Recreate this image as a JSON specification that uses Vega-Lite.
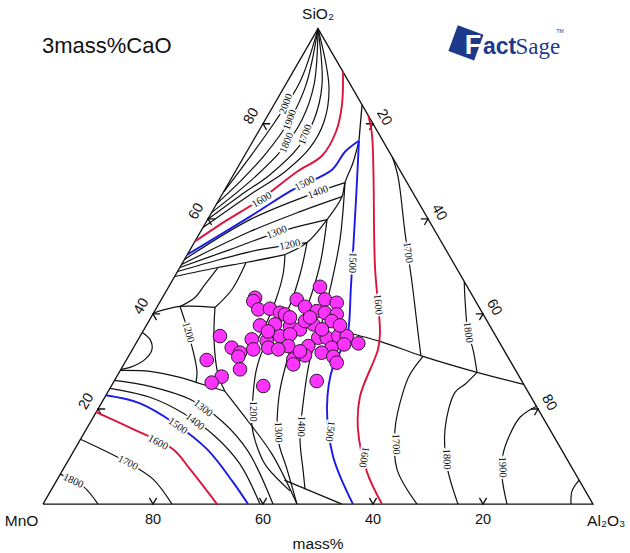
{
  "$schema": "https://vega.github.io/schema/vega-lite/v6.json",
  "width": 630,
  "height": 553,
  "autosize": {"type": "fit", "contains": "padding"},
  "padding": 0,
  "background": "white",
  "config": {"view": {"stroke": null}},
  "datasets": {
    "lines": [
      {"id":"T","iso":"other","o":0,"x":0,"y":0},{"id":"T","iso":"other","o":1,"x":100,"y":0},{"id":"T","iso":"other","o":2,"x":50,"y":86.603},{"id":"T","iso":"other","o":3,"x":0,"y":0},
      {"id":"A1","iso":"other","o":0,"x":50,"y":86.6},{"id":"A1","iso":"other","o":1,"x":46.73,"y":76.91},{"id":"A1","iso":"other","o":2,"x":42.18,"y":69.64},{"id":"A1","iso":"other","o":3,"x":37.27,"y":62.73},{"id":"A1","iso":"other","o":4,"x":32.9,"y":56.9},
      {"id":"A2","iso":"other","o":0,"x":50,"y":86.6},{"id":"A2","iso":"other","o":1,"x":47.82,"y":76.36},{"id":"A2","iso":"other","o":2,"x":44.91,"y":70.0},{"id":"A2","iso":"other","o":3,"x":40.36,"y":63.64},{"id":"A2","iso":"other","o":4,"x":35.82,"y":58.73},{"id":"A2","iso":"other","o":5,"x":31.6,"y":54.73},
      {"id":"A3","iso":"other","o":0,"x":50,"y":86.6},{"id":"A3","iso":"other","o":1,"x":49.27,"y":76.36},{"id":"A3","iso":"other","o":2,"x":47.09,"y":70.0},{"id":"A3","iso":"other","o":3,"x":43.45,"y":64.55},{"id":"A3","iso":"other","o":4,"x":38.0,"y":59.09},{"id":"A3","iso":"other","o":5,"x":30.65,"y":53.09},
      {"id":"A4","iso":"other","o":0,"x":50,"y":86.6},{"id":"A4","iso":"other","o":1,"x":50.73,"y":76.36},{"id":"A4","iso":"other","o":2,"x":49.27,"y":70.0},{"id":"A4","iso":"other","o":3,"x":46.36,"y":64.91},{"id":"A4","iso":"other","o":4,"x":41.27,"y":60.0},{"id":"A4","iso":"other","o":5,"x":35.82,"y":56.18},{"id":"A4","iso":"other","o":6,"x":29.95,"y":51.87},
      {"id":"A5","iso":"other","o":0,"x":50,"y":86.6},{"id":"A5","iso":"other","o":1,"x":52.0,"y":75.82},{"id":"A5","iso":"other","o":2,"x":51.09,"y":69.64},{"id":"A5","iso":"other","o":3,"x":48.55,"y":64.91},{"id":"A5","iso":"other","o":4,"x":44.0,"y":60.55},{"id":"A5","iso":"other","o":5,"x":37.64,"y":56.36},{"id":"A5","iso":"other","o":6,"x":29.08,"y":50.36},
      {"id":"R1","iso":"1600","o":0,"x":54.54,"y":78.73},{"id":"R1","iso":"1600","o":1,"x":54.36,"y":72.73},{"id":"R1","iso":"1600","o":2,"x":53.27,"y":67.82},{"id":"R1","iso":"1600","o":3,"x":50.73,"y":63.45},{"id":"R1","iso":"1600","o":4,"x":46.18,"y":60.55},{"id":"R1","iso":"1600","o":5,"x":39.45,"y":55.45},{"id":"R1","iso":"1600","o":6,"x":32.73,"y":51.27},{"id":"R1","iso":"1600","o":7,"x":27.61,"y":47.82},
      {"id":"B1","iso":"1500","o":0,"x":57.45,"y":66.18},{"id":"B1","iso":"1500","o":1,"x":54.91,"y":64.18},{"id":"B1","iso":"1500","o":2,"x":52.55,"y":60.91},{"id":"B1","iso":"1500","o":3,"x":45.45,"y":57.27},{"id":"B1","iso":"1500","o":4,"x":37.64,"y":52.36},{"id":"B1","iso":"1500","o":5,"x":26.24,"y":45.45},
      {"id":"B2","iso":"1500","o":0,"x":57.45,"y":66.18},{"id":"B2","iso":"1500","o":1,"x":56.91,"y":55.45},{"id":"B2","iso":"1500","o":2,"x":56.0,"y":39.82},{"id":"B2","iso":"1500","o":3,"x":55.45,"y":31.27},{"id":"B2","iso":"1500","o":4,"x":54.55,"y":28.73},{"id":"B2","iso":"1500","o":5,"x":52.73,"y":25.09},{"id":"B2","iso":"1500","o":6,"x":51.64,"y":17.82},{"id":"B2","iso":"1500","o":7,"x":52.73,"y":8.73},{"id":"B2","iso":"1500","o":8,"x":56.36,"y":0},
      {"id":"R2","iso":"1600","o":0,"x":59.17,"y":70.73},{"id":"R2","iso":"1600","o":1,"x":59.82,"y":67.27},{"id":"R2","iso":"1600","o":2,"x":60.36,"y":43.27},{"id":"R2","iso":"1600","o":3,"x":61.27,"y":31.27},{"id":"R2","iso":"1600","o":4,"x":60.91,"y":28.18},{"id":"R2","iso":"1600","o":5,"x":57.64,"y":19.64},{"id":"R2","iso":"1600","o":6,"x":57.27,"y":13.64},{"id":"R2","iso":"1600","o":7,"x":58.91,"y":5.82},{"id":"R2","iso":"1600","o":8,"x":61.64,"y":0},
      {"id":"TS","iso":"other","o":0,"x":58.01,"y":72.73},{"id":"TS","iso":"other","o":1,"x":57.45,"y":66.18},
      {"id":"D","iso":"other","o":0,"x":57.45,"y":66.18},{"id":"D","iso":"other","o":1,"x":56.36,"y":62.18},{"id":"D","iso":"other","o":2,"x":54.91,"y":58.55},{"id":"D","iso":"other","o":3,"x":54.36,"y":56.0},{"id":"D","iso":"other","o":4,"x":51.64,"y":51.82},{"id":"D","iso":"other","o":5,"x":48.0,"y":47.64},{"id":"D","iso":"other","o":6,"x":44.0,"y":45.45},
      {"id":"C1","iso":"other","o":0,"x":54.91,"y":58.55},{"id":"C1","iso":"other","o":1,"x":48.55,"y":56.36},{"id":"C1","iso":"other","o":2,"x":37.64,"y":51.82},{"id":"C1","iso":"other","o":3,"x":25.72,"y":44.55},
      {"id":"C1b","iso":"other","o":0,"x":54.36,"y":56.0},{"id":"C1b","iso":"other","o":1,"x":46.73,"y":53.27},{"id":"C1b","iso":"other","o":2,"x":37.64,"y":49.64},{"id":"C1b","iso":"other","o":3,"x":25.2,"y":43.64},
      {"id":"C2","iso":"other","o":0,"x":51.64,"y":51.82},{"id":"C2","iso":"other","o":1,"x":43.09,"y":49.64},{"id":"C2","iso":"other","o":2,"x":34.0,"y":46.36},{"id":"C2","iso":"other","o":3,"x":24.88,"y":43.09},
      {"id":"C3","iso":"other","o":0,"x":48.0,"y":47.64},{"id":"C3","iso":"other","o":1,"x":39.45,"y":46.36},{"id":"C3","iso":"other","o":2,"x":32.18,"y":44.55},{"id":"C3","iso":"other","o":3,"x":24.46,"y":42.36},
      {"id":"C4","iso":"other","o":0,"x":44.0,"y":45.45},{"id":"C4","iso":"other","o":1,"x":36.91,"y":44.0},{"id":"C4","iso":"other","o":2,"x":31.82,"y":43.09},{"id":"C4","iso":"other","o":3,"x":23.93,"y":41.45},
      {"id":"P1","iso":"other","o":0,"x":31.82,"y":43.09},{"id":"P1","iso":"other","o":1,"x":29.45,"y":40.0},{"id":"P1","iso":"other","o":2,"x":27.64,"y":37.64},{"id":"P1","iso":"other","o":3,"x":24.91,"y":36.0},
      {"id":"H1","iso":"other","o":0,"x":20.1,"y":34.8},{"id":"H1","iso":"other","o":1,"x":24.91,"y":36.0},{"id":"H1","iso":"other","o":2,"x":31.27,"y":35.82},
      {"id":"G1","iso":"other","o":0,"x":31.27,"y":35.82},{"id":"G1","iso":"other","o":1,"x":34.36,"y":39.09},{"id":"G1","iso":"other","o":2,"x":36.91,"y":44.0},
      {"id":"V1","iso":"other","o":0,"x":31.27,"y":35.82},{"id":"V1","iso":"other","o":1,"x":31.09,"y":30.0},{"id":"V1","iso":"other","o":2,"x":31.82,"y":23.64},{"id":"V1","iso":"other","o":3,"x":33.09,"y":20.55},
      {"id":"L12","iso":"other","o":0,"x":24.91,"y":36.0},{"id":"L12","iso":"other","o":1,"x":25.82,"y":33.27},{"id":"L12","iso":"other","o":2,"x":26.73,"y":30.0},{"id":"L12","iso":"other","o":3,"x":27.64,"y":26.36},{"id":"L12","iso":"other","o":4,"x":28.0,"y":24.0},{"id":"L12","iso":"other","o":5,"x":27.82,"y":22.18},
      {"id":"LP","iso":"other","o":0,"x":18.05,"y":31.27},{"id":"LP","iso":"other","o":1,"x":19.45,"y":30.0},{"id":"LP","iso":"other","o":2,"x":19.82,"y":28.18},{"id":"LP","iso":"other","o":3,"x":18.55,"y":26.36},{"id":"LP","iso":"other","o":4,"x":15.82,"y":24.91},{"id":"LP","iso":"other","o":5,"x":14.18,"y":24.55},
      {"id":"K0","iso":"other","o":0,"x":14.18,"y":24.36},{"id":"K0","iso":"other","o":1,"x":19.45,"y":24.18},{"id":"K0","iso":"other","o":2,"x":24.91,"y":23.09},{"id":"K0","iso":"other","o":3,"x":27.82,"y":22.18},{"id":"K0","iso":"other","o":4,"x":33.09,"y":20.55},
      {"id":"K1","iso":"other","o":0,"x":33.09,"y":20.55},{"id":"K1","iso":"other","o":1,"x":36.73,"y":15.82},{"id":"K1","iso":"other","o":2,"x":41.64,"y":9.09},{"id":"K1","iso":"other","o":3,"x":46.18,"y":0},
      {"id":"K2","iso":"other","o":0,"x":13.02,"y":22.55},{"id":"K2","iso":"other","o":1,"x":19.45,"y":21.45},{"id":"K2","iso":"other","o":2,"x":26.73,"y":19.09},{"id":"K2","iso":"other","o":3,"x":32.55,"y":15.09},{"id":"K2","iso":"other","o":4,"x":37.27,"y":9.64},{"id":"K2","iso":"other","o":5,"x":41.82,"y":0},
      {"id":"K3","iso":"other","o":0,"x":12.18,"y":21.09},{"id":"K3","iso":"other","o":1,"x":19.45,"y":19.45},{"id":"K3","iso":"other","o":2,"x":25.82,"y":16.36},{"id":"K3","iso":"other","o":3,"x":31.27,"y":12.36},{"id":"K3","iso":"other","o":4,"x":35.82,"y":7.27},{"id":"K3","iso":"other","o":5,"x":39.45,"y":0},
      {"id":"B3","iso":"1500","o":0,"x":11.44,"y":19.82},{"id":"B3","iso":"1500","o":1,"x":17.64,"y":18.36},{"id":"B3","iso":"1500","o":2,"x":23.64,"y":14.91},{"id":"B3","iso":"1500","o":3,"x":29.82,"y":10.0},{"id":"B3","iso":"1500","o":4,"x":34.55,"y":4.0},{"id":"B3","iso":"1500","o":5,"x":37.27,"y":0},
      {"id":"R3","iso":"1600","o":0,"x":9.66,"y":16.73},{"id":"R3","iso":"1600","o":1,"x":16.36,"y":13.64},{"id":"R3","iso":"1600","o":2,"x":23.64,"y":10.0},{"id":"R3","iso":"1600","o":3,"x":26.73,"y":6.36},{"id":"R3","iso":"1600","o":4,"x":31.64,"y":0},
      {"id":"N17","iso":"other","o":0,"x":6.82,"y":11.82},{"id":"N17","iso":"other","o":1,"x":15.27,"y":7.64},{"id":"N17","iso":"other","o":2,"x":20.0,"y":4.55},{"id":"N17","iso":"other","o":3,"x":23.45,"y":0},
      {"id":"N18","iso":"other","o":0,"x":3.15,"y":5.45},{"id":"N18","iso":"other","o":1,"x":7.27,"y":3.27},{"id":"N18","iso":"other","o":2,"x":10.0,"y":0},
      {"id":"M12","iso":"other","o":0,"x":48.0,"y":47.64},{"id":"M12","iso":"other","o":1,"x":46.73,"y":41.82},{"id":"M12","iso":"other","o":2,"x":44.55,"y":35.45},{"id":"M12","iso":"other","o":3,"x":41.64,"y":30.91},{"id":"M12","iso":"other","o":4,"x":40.0,"y":28.18},{"id":"M12","iso":"other","o":5,"x":38.73,"y":24.18},{"id":"M12","iso":"other","o":6,"x":38.18,"y":19.64},{"id":"M12","iso":"other","o":7,"x":38.0,"y":14.18},{"id":"M12","iso":"other","o":8,"x":39.09,"y":10.0},{"id":"M12","iso":"other","o":9,"x":40.6,"y":6.9},{"id":"M12","iso":"other","o":10,"x":44.9,"y":2.4},
      {"id":"M13","iso":"other","o":0,"x":51.64,"y":51.82},{"id":"M13","iso":"other","o":1,"x":50.36,"y":43.64},{"id":"M13","iso":"other","o":2,"x":48.18,"y":36.36},{"id":"M13","iso":"other","o":3,"x":45.82,"y":30.91},{"id":"M13","iso":"other","o":4,"x":44.18,"y":25.45},{"id":"M13","iso":"other","o":5,"x":42.91,"y":19.64},{"id":"M13","iso":"other","o":6,"x":42.73,"y":11.82},{"id":"M13","iso":"other","o":7,"x":44.36,"y":6.36},{"id":"M13","iso":"other","o":8,"x":46.18,"y":0},
      {"id":"M14","iso":"other","o":0,"x":54.91,"y":58.55},{"id":"M14","iso":"other","o":1,"x":54.0,"y":48.18},{"id":"M14","iso":"other","o":2,"x":52.18,"y":39.09},{"id":"M14","iso":"other","o":3,"x":50.36,"y":31.82},{"id":"M14","iso":"other","o":4,"x":48.55,"y":26.36},{"id":"M14","iso":"other","o":5,"x":47.45,"y":19.64},{"id":"M14","iso":"other","o":6,"x":46.73,"y":11.82},{"id":"M14","iso":"other","o":7,"x":47.27,"y":6.36},{"id":"M14","iso":"other","o":8,"x":47.64,"y":2.73},
      {"id":"BB","iso":"other","o":0,"x":43.9,"y":4.36},{"id":"BB","iso":"other","o":1,"x":54.36,"y":0},
      {"id":"BD","iso":"other","o":0,"x":44.0,"y":45.45},{"id":"BD","iso":"other","o":1,"x":43.64,"y":41.82},{"id":"BD","iso":"other","o":2,"x":42.36,"y":37.27},{"id":"BD","iso":"other","o":3,"x":40.91,"y":33.64},{"id":"BD","iso":"other","o":4,"x":38.55,"y":29.09},
      {"id":"E","iso":"other","o":0,"x":53.0,"y":31.8},{"id":"E","iso":"other","o":1,"x":61.27,"y":29.64},{"id":"E","iso":"other","o":2,"x":69.09,"y":26.91},{"id":"E","iso":"other","o":3,"x":78.91,"y":24.0},{"id":"E","iso":"other","o":4,"x":87.4,"y":21.82},
      {"id":"U17","iso":"other","o":0,"x":63.57,"y":63.09},{"id":"U17","iso":"other","o":1,"x":64.55,"y":59.64},{"id":"U17","iso":"other","o":2,"x":65.82,"y":49.45},{"id":"U17","iso":"other","o":3,"x":67.09,"y":40.36},{"id":"U17","iso":"other","o":4,"x":68.18,"y":31.27},{"id":"U17","iso":"other","o":5,"x":68.7,"y":27.1},
      {"id":"U18","iso":"other","o":0,"x":76.59,"y":40.55},{"id":"U18","iso":"other","o":1,"x":76.73,"y":37.27},{"id":"U18","iso":"other","o":2,"x":77.27,"y":31.27},{"id":"U18","iso":"other","o":3,"x":78.18,"y":28.18},{"id":"U18","iso":"other","o":4,"x":78.91,"y":24.0},
      {"id":"W17","iso":"other","o":0,"x":69.09,"y":26.91},{"id":"W17","iso":"other","o":1,"x":66.73,"y":23.64},{"id":"W17","iso":"other","o":2,"x":65.45,"y":20.36},{"id":"W17","iso":"other","o":3,"x":64.0,"y":13.64},{"id":"W17","iso":"other","o":4,"x":64.36,"y":6.36},{"id":"W17","iso":"other","o":5,"x":68.0,"y":0},
      {"id":"W18","iso":"other","o":0,"x":78.91,"y":24.0},{"id":"W18","iso":"other","o":1,"x":76.73,"y":21.82},{"id":"W18","iso":"other","o":2,"x":74.91,"y":20.36},{"id":"W18","iso":"other","o":3,"x":73.09,"y":13.64},{"id":"W18","iso":"other","o":4,"x":73.45,"y":6.91},{"id":"W18","iso":"other","o":5,"x":75.45,"y":0},
      {"id":"W19","iso":"other","o":0,"x":89.71,"y":17.82},{"id":"W19","iso":"other","o":1,"x":86.73,"y":15.82},{"id":"W19","iso":"other","o":2,"x":84.91,"y":12.73},{"id":"W19","iso":"other","o":3,"x":83.64,"y":9.09},{"id":"W19","iso":"other","o":4,"x":83.45,"y":5.09},{"id":"W19","iso":"other","o":5,"x":84.36,"y":0},
      {"id":"WC","iso":"other","o":0,"x":97.48,"y":4.36},{"id":"WC","iso":"other","o":1,"x":96.18,"y":2.36},{"id":"WC","iso":"other","o":2,"x":96.0,"y":0},
      {"id":"tickB20","iso":"other","o":0,"x":19.35,"y":1.13},{"id":"tickB20","iso":"other","o":1,"x":20,"y":0},{"id":"tickB20","iso":"other","o":2,"x":20.65,"y":1.13},
      {"id":"tickB40","iso":"other","o":0,"x":39.35,"y":1.13},{"id":"tickB40","iso":"other","o":1,"x":40,"y":0},{"id":"tickB40","iso":"other","o":2,"x":40.65,"y":1.13},
      {"id":"tickB60","iso":"other","o":0,"x":59.35,"y":1.13},{"id":"tickB60","iso":"other","o":1,"x":60,"y":0},{"id":"tickB60","iso":"other","o":2,"x":60.65,"y":1.13},
      {"id":"tickB80","iso":"other","o":0,"x":79.35,"y":1.13},{"id":"tickB80","iso":"other","o":1,"x":80,"y":0},{"id":"tickB80","iso":"other","o":2,"x":80.65,"y":1.13},
      {"id":"tickL20","iso":"other","o":0,"x":11.3,"y":17.32},{"id":"tickL20","iso":"other","o":1,"x":10,"y":17.32},{"id":"tickL20","iso":"other","o":2,"x":10.65,"y":16.19},
      {"id":"tickL40","iso":"other","o":0,"x":21.3,"y":34.64},{"id":"tickL40","iso":"other","o":1,"x":20,"y":34.64},{"id":"tickL40","iso":"other","o":2,"x":20.65,"y":33.51},
      {"id":"tickL60","iso":"other","o":0,"x":31.3,"y":51.96},{"id":"tickL60","iso":"other","o":1,"x":30,"y":51.96},{"id":"tickL60","iso":"other","o":2,"x":30.65,"y":50.83},
      {"id":"tickL80","iso":"other","o":0,"x":41.3,"y":69.28},{"id":"tickL80","iso":"other","o":1,"x":40,"y":69.28},{"id":"tickL80","iso":"other","o":2,"x":40.65,"y":68.15},
      {"id":"tickR20","iso":"other","o":0,"x":58.7,"y":69.28},{"id":"tickR20","iso":"other","o":1,"x":60,"y":69.28},{"id":"tickR20","iso":"other","o":2,"x":59.35,"y":68.15},
      {"id":"tickR40","iso":"other","o":0,"x":68.7,"y":51.96},{"id":"tickR40","iso":"other","o":1,"x":70,"y":51.96},{"id":"tickR40","iso":"other","o":2,"x":69.35,"y":50.83},
      {"id":"tickR60","iso":"other","o":0,"x":78.7,"y":34.64},{"id":"tickR60","iso":"other","o":1,"x":80,"y":34.64},{"id":"tickR60","iso":"other","o":2,"x":79.35,"y":33.51},
      {"id":"tickR80","iso":"other","o":0,"x":88.7,"y":17.32},{"id":"tickR80","iso":"other","o":1,"x":90,"y":17.32},{"id":"tickR80","iso":"other","o":2,"x":89.35,"y":16.19}
    ],
    "isoLabels": [
      {"t":"2000","x":44.2,"y":72.9,"a":290},{"t":"1900","x":44.9,"y":70.0,"a":290},{"t":"1800","x":44.3,"y":65.8,"a":292},{"t":"1700","x":47.7,"y":67.3,"a":290},
      {"t":"1600","x":39.8,"y":55.4,"a":328},{"t":"1500","x":47.6,"y":58.4,"a":333},{"t":"1400","x":50.0,"y":56.8,"a":340},{"t":"1300","x":42.5,"y":49.5,"a":340},{"t":"1200","x":44.9,"y":47.2,"a":348},
      {"t":"1200","x":26.4,"y":31.3,"a":75},
      {"t":"1300","x":29.1,"y":17.45,"a":38},{"t":"1400","x":27.6,"y":15.0,"a":38},{"t":"1500","x":24.5,"y":14.2,"a":35},{"t":"1600","x":20.9,"y":11.2,"a":28},{"t":"1700","x":15.45,"y":7.5,"a":27},{"t":"1800","x":5.5,"y":4.2,"a":25},
      {"t":"1200","x":38.1,"y":16.9,"a":90},{"t":"1300","x":42.76,"y":13.09,"a":88},{"t":"1400","x":46.95,"y":14.18,"a":92},{"t":"1500","x":52.18,"y":13.27,"a":97},{"t":"1600","x":58.34,"y":8.55,"a":100},
      {"t":"1500","x":56.24,"y":44.0,"a":92},{"t":"1600","x":60.88,"y":36.36,"a":85},{"t":"1700","x":66.33,"y":45.82,"a":82},{"t":"1800","x":77.27,"y":31.27,"a":83},
      {"t":"1700","x":64.14,"y":10.91,"a":88},{"t":"1800","x":73.38,"y":8.18,"a":88},{"t":"1900","x":83.53,"y":6.73,"a":88}
    ],
    "tickLabels": [
      {"side":"bottom","t":"80","x":20,"y":-2.91},{"side":"bottom","t":"60","x":40,"y":-2.91},{"side":"bottom","t":"40","x":60,"y":-2.91},{"side":"bottom","t":"20","x":80,"y":-2.91},
      {"side":"left","t":"80","x":37.9,"y":70.63},{"side":"left","t":"60","x":27.9,"y":53.31},{"side":"left","t":"40","x":17.9,"y":35.99},{"side":"left","t":"20","x":7.9,"y":18.67},
      {"side":"right","t":"20","x":62,"y":70.43},{"side":"right","t":"40","x":72,"y":53.11},{"side":"right","t":"60","x":82,"y":35.79},{"side":"right","t":"80","x":92,"y":18.47}
    ],
    "corners": [
      {"t":"SiO₂","x":50,"y":89.2},{"t":"MnO","x":-3.9,"y":-3.1},{"t":"Al₂O₃","x":102.4,"y":-3.1},{"t":"mass%","x":50,"y":-7.27}
    ],
    "samples": [
      {"x":38.55,"y":37.58},{"x":38.24,"y":36.96},{"x":39.15,"y":35.45},{"x":41.27,"y":35.58},{"x":43.09,"y":34.85},{"x":44.0,"y":34.55},{"x":46.13,"y":37.27},{"x":47.64,"y":35.95},
      {"x":50.36,"y":39.58},{"x":51.27,"y":37.27},{"x":53.4,"y":36.67},{"x":49.76,"y":35.15},{"x":51.27,"y":34.85},{"x":53.4,"y":34.55},{"x":52.49,"y":33.33},{"x":39.45,"y":32.55},
      {"x":42.18,"y":32.73},{"x":44.91,"y":32.42},{"x":46.73,"y":31.82},{"x":49.15,"y":32.73},{"x":47.64,"y":33.33},{"x":32.18,"y":30.6},{"x":37.95,"y":30.0},{"x":40.67,"y":29.69},
      {"x":43.09,"y":30.6},{"x":44.91,"y":30.91},{"x":50.05,"y":30.31},{"x":51.58,"y":30.31},{"x":53.69,"y":30.6},{"x":55.22,"y":30.6},{"x":57.33,"y":29.27},{"x":34.31,"y":28.49},
      {"x":35.82,"y":27.58},{"x":38.24,"y":28.18},{"x":40.96,"y":28.49},{"x":44.6,"y":28.78},{"x":48.24,"y":28.78},{"x":52.49,"y":28.49},{"x":35.51,"y":26.85},{"x":42.78,"y":28.18},
      {"x":45.51,"y":26.36},{"x":47.64,"y":27.09},{"x":50.67,"y":27.58},{"x":52.78,"y":26.85},{"x":53.4,"y":25.76},{"x":45.51,"y":25.45},{"x":29.76,"y":26.24},{"x":35.82,"y":24.55},
      {"x":32.49,"y":23.22},{"x":30.67,"y":22.13},{"x":40.05,"y":21.51},{"x":49.76,"y":22.42},{"x":44.91,"y":34.0},{"x":48.55,"y":34.0},{"x":50.73,"y":31.82},{"x":54.0,"y":32.55},
      {"x":40.91,"y":31.45},{"x":54.73,"y":29.09},{"x":46.73,"y":27.82}
    ]
  },
  "encoding": {
    "x": {"field": "x", "type": "quantitative", "scale": {"domain": [-7.818, 106.727], "nice": false, "zero": false}, "axis": null},
    "y": {"field": "y", "type": "quantitative", "scale": {"domain": [-8.727, 91.818], "nice": false, "zero": false}, "axis": null}
  },
  "layer": [
    {
      "data": {"name": "lines"},
      "transform": [{"filter": "datum.id == 'T' || datum.id == 'BB' || datum.id == 'TS' || indexof(datum.id, 'tick') == 0"}],
      "mark": {"type": "line", "color": "#111111", "strokeWidth": 1.3},
      "encoding": {"detail": {"field": "id"}, "order": {"field": "o", "type": "quantitative"}}
    },
    {
      "data": {"name": "lines"},
      "transform": [{"filter": "datum.iso == 'other' && !(datum.id == 'T' || datum.id == 'BB' || datum.id == 'TS' || indexof(datum.id, 'tick') == 0)"}],
      "mark": {"type": "line", "color": "#111111", "strokeWidth": 1.2, "interpolate": "catmull-rom"},
      "encoding": {"detail": {"field": "id"}, "order": {"field": "o", "type": "quantitative"}}
    },
    {
      "data": {"name": "lines"},
      "transform": [{"filter": "datum.iso != 'other'"}],
      "mark": {"type": "line", "strokeWidth": 1.9, "interpolate": "catmull-rom"},
      "encoding": {
        "detail": {"field": "id"},
        "order": {"field": "o", "type": "quantitative"},
        "color": {"field": "iso", "type": "nominal", "scale": {"domain": ["1500", "1600"], "range": ["#1a1ae8", "#dc143c"]}, "legend": null}
      }
    },
    {
      "data": {"name": "isoLabels"},
      "mark": {"type": "text", "font": "Liberation Serif", "fontSize": 10.5, "fill": "white", "stroke": "white", "strokeWidth": 3.5},
      "encoding": {"text": {"field": "t"}, "angle": {"field": "a", "type": "quantitative", "scale": null}}
    },
    {
      "data": {"name": "isoLabels"},
      "mark": {"type": "text", "font": "Liberation Serif", "fontSize": 10.5, "color": "#111111"},
      "encoding": {"text": {"field": "t"}, "angle": {"field": "a", "type": "quantitative", "scale": null}}
    },
    {
      "data": {"name": "tickLabels"},
      "transform": [{"filter": "datum.side == 'bottom'"}],
      "mark": {"type": "text", "font": "Liberation Sans", "fontSize": 14.5, "color": "#111111"},
      "encoding": {"text": {"field": "t"}}
    },
    {
      "data": {"name": "tickLabels"},
      "transform": [{"filter": "datum.side == 'left'"}],
      "mark": {"type": "text", "font": "Liberation Sans", "fontSize": 14.5, "color": "#111111", "angle": 300},
      "encoding": {"text": {"field": "t"}}
    },
    {
      "data": {"name": "tickLabels"},
      "transform": [{"filter": "datum.side == 'right'"}],
      "mark": {"type": "text", "font": "Liberation Sans", "fontSize": 14.5, "color": "#111111", "angle": 60},
      "encoding": {"text": {"field": "t"}}
    },
    {
      "data": {"name": "corners"},
      "mark": {"type": "text", "font": "Liberation Sans", "fontSize": 15.5, "color": "#111111"},
      "encoding": {"text": {"field": "t"}}
    },
    {
      "data": {"name": "samples"},
      "mark": {"type": "point", "shape": "circle", "filled": true, "size": 185, "fill": "#ff33ff", "stroke": "#2a1a2a", "strokeWidth": 1, "opacity": 1}
    },
    {
      "data": {"values": [{"t": "3mass%CaO", "x": -0.2, "y": 83.45}]},
      "mark": {"type": "text", "font": "Liberation Sans", "fontSize": 22, "align": "left", "color": "#111111"},
      "encoding": {"text": {"field": "t"}}
    },
    {
      "data": {"values": [{"x": 76.9, "y": 84.0}]},
      "mark": {"type": "point", "shape": "square", "filled": true, "size": 750, "angle": 20, "color": "#1d3a8a", "opacity": 1}
    },
    {
      "data": {"values": [{"t": "F", "x": 78.2, "y": 83.5}]},
      "mark": {"type": "text", "font": "Liberation Sans", "fontSize": 27, "fontWeight": "bold", "color": "white"},
      "encoding": {"text": {"field": "t"}}
    },
    {
      "data": {"values": [{"t": "act", "x": 80.0, "y": 83.27}]},
      "mark": {"type": "text", "font": "Liberation Sans", "fontSize": 23, "fontWeight": "bold", "align": "left", "color": "#1d3a8a"},
      "encoding": {"text": {"field": "t"}}
    },
    {
      "data": {"values": [{"t": "Sage", "x": 85.9, "y": 83.27}]},
      "mark": {"type": "text", "font": "Liberation Sans Narrow", "fontSize": 23, "align": "left", "color": "#1d3a8a"},
      "encoding": {"text": {"field": "t"}}
    },
    {
      "data": {"values": [{"t": "TM", "x": 94.0, "y": 86.2}]},
      "mark": {"type": "text", "font": "Liberation Sans", "fontSize": 5, "color": "#1d3a8a"},
      "encoding": {"text": {"field": "t"}}
    }
  ]
}
